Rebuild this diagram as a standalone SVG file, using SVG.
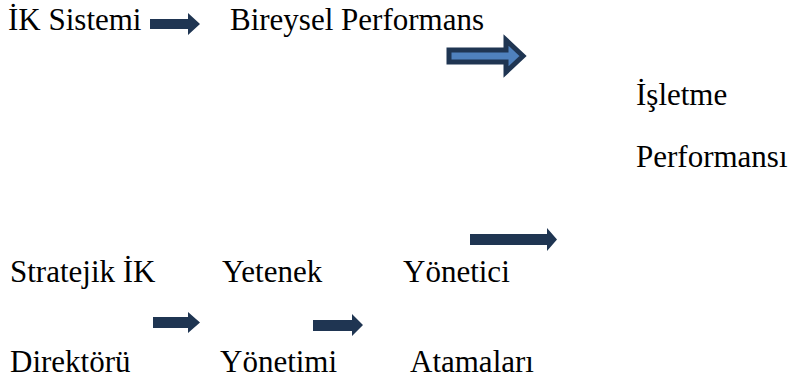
<svg xmlns="http://www.w3.org/2000/svg" width="789" height="385" viewBox="0 0 789 385">
<rect width="789" height="385" fill="#fff"/>
<g id="n-ik-sistemi"><text x="8" y="30" font-family="Liberation Serif" font-size="31">İK Sistemi</text></g>
<g id="n-bireysel"><text x="230" y="30" font-family="Liberation Serif" font-size="31">Bireysel Performans</text></g>
<g id="n-isletme"><text x="636" y="105" font-family="Liberation Serif" font-size="31">İşletme</text><text x="636" y="167" font-family="Liberation Serif" font-size="31">Performansı</text></g>
<g id="n-stratejik"><text x="10" y="282" font-family="Liberation Serif" font-size="31">Stratejik İK</text><text x="10" y="372" font-family="Liberation Serif" font-size="31">Direktörü</text></g>
<g id="n-yetenek"><text x="222" y="282" font-family="Liberation Serif" font-size="31">Yetenek</text><text x="220" y="372" font-family="Liberation Serif" font-size="31">Yönetimi</text></g>
<g id="n-yonetici"><text x="403" y="282" font-family="Liberation Serif" font-size="31">Yönetici</text><text x="410" y="372" font-family="Liberation Serif" font-size="31">Atamaları</text></g>
<g id="connectors" fill="#1F3552">
<polygon points="150,19 188,19 188,13 200,24 188,35 188,29 150,29"/>
<polygon fill="#4F81BD" stroke="#1F3552" stroke-width="5" points="449,50 506,50 506,40 523,56 506,72 506,62 449,62"/>
<polygon points="470,234 547,234 547,228 557,239.5 547,251 547,245 470,245"/>
<polygon points="153,317 188,317 188,312 200,322.5 188,333 188,328 153,328"/>
<polygon points="313,320 352,320 352,314 363,325 352,336 352,331 313,331"/>
</g>
</svg>
